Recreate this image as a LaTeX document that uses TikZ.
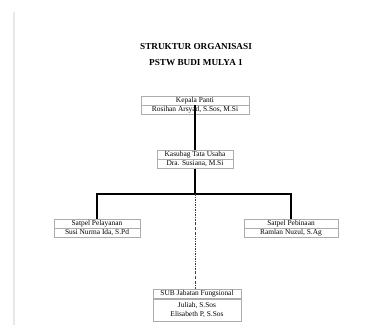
\documentclass[tikz,border=0pt]{standalone}
\usepackage{fontspec}
\setmainfont{Liberation Serif}
\usetikzlibrary{positioning,calc}
\tikzset{
	unit/.style={draw=gray!65, line width=.5pt, fill=white, inner sep=.5pt, align=center, minimum height=9pt, font=\fontsize{7.4}{8.2}\selectfont},
	heading/.style={font=\bfseries\fontsize{9.2}{11}\selectfont, text centered},
	link/.style={color=black, line width=2pt, line join=miter},
	dotlink/.style={color=black!75, line width=.6pt, dash pattern=on 2pt off 1.2pt on .5pt off 1.2pt},
	margin/.style={color=gray!18, line width=2pt}
}
\begin{document}
\begin{tikzpicture}[x=1pt,y=1pt]
		\useasboundingbox (0,0) rectangle (365,325);
		\draw [margin] (14,313) -- (14,0);
		
		\node [heading] (ttl1) at (196, 279) {STRUKTUR ORGANISASI};
		\node [heading] (ttl2) at (196, 262) {PSTW BUDI MULYA 1};
		
		\node [unit, minimum width=108pt] (kepala) at (195, 224.5) {Kepala Panti};
		\node [unit, minimum width=108pt, below=0pt of kepala] (kepala-nm) {Rosihan Arsyad, S.Sos, M.Si};
		\node [unit, minimum width=76pt] (kasubag) at (195, 170.5) {Kasubag Tata Usaha};
		\node [unit, minimum width=76pt, below=0pt of kasubag] (kasubag-nm) {Dra. Susiana, M.Si};
		\node [unit, minimum width=86pt] (pelayanan) at (97, 101.5) {Satpel Pelayanan};
		\node [unit, minimum width=86pt, below=0pt of pelayanan] (pelayanan-nm) {Susi Nurma Ida, S.Pd};
		\node [unit, minimum width=94pt] (pebinaan) at (291, 101.5) {Satpel Pebinaan};
		\node [unit, minimum width=94pt, below=0pt of pebinaan] (pebinaan-nm) {Ramlan Nuzul, S.Ag};
		\node [unit, minimum width=88pt] (sub) at (197, 31) {SUB Jabatan Fungsional};
		\node [unit, minimum width=88pt, minimum height=22pt, below=0pt of sub] (sub-nm) {Juliah, S.Sos\\Elisabeth P, S.Sos};
		
		\coordinate (split) at (195, 131);
		
		\draw [link] (kepala.south) -- (kasubag.north);
		\draw [link] (kasubag-nm.south) -- (split);
		\draw [link] (pelayanan.north) |- (split) -| (pebinaan.north);
		\draw [dotlink] (split) -- (split |- sub.north);
		
	\end{tikzpicture}
\end{document}
